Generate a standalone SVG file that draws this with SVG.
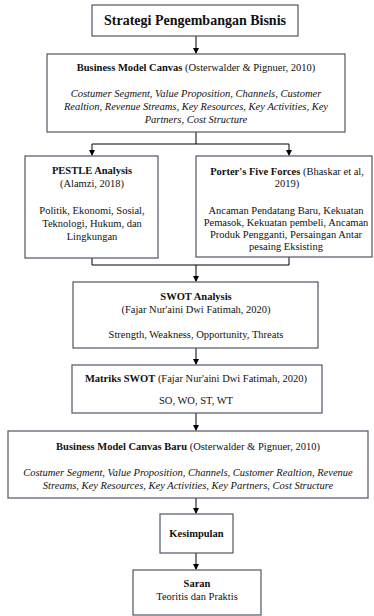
<svg xmlns="http://www.w3.org/2000/svg" width="374" height="616" viewBox="0 0 374 616" font-family="Liberation Serif, DejaVu Serif, serif">
<defs>
<marker id="ah" markerWidth="6" markerHeight="6" refX="5" refY="3" orient="auto" markerUnits="userSpaceOnUse">
<path d="M0,0 L6,3 L0,6 Z" fill="#000"/>
</marker>
<style>
text{font-family:"Liberation Serif",serif}
.box{fill:#fff;stroke:#4d5566;stroke-width:1.2}
.t{font-size:10.5px;fill:#111;text-anchor:middle}
.b{font-weight:bold}
.i{font-style:italic}
.ttl{font-size:14px}
.c{fill:none;stroke:#000;stroke-width:1}
.a{marker-end:url(#ah)}
</style>
</defs>
<rect width="374" height="616" fill="#fff"/>
<g id="connectors">
<path class="c a" d="M196,36 V53"/>
<path class="c" d="M196,132 V144"/>
<path class="c" d="M92,144 H289"/>
<path class="c a" d="M92,144 V155"/>
<path class="c a" d="M289,144 V155"/>
<path class="c" d="M92,258 V265 H289 V257"/>
<path class="c a" d="M196,265 V281"/>
<path class="c a" d="M196,348 V364"/>
<path class="c a" d="M196,413 V430"/>
<path class="c a" d="M196,498 V513"/>
<path class="c a" d="M196,553 V569"/>
</g>
<g id="title">
<rect class="box" x="92" y="5" width="206" height="31"/>
<text class="t b ttl" x="195" y="25" font-family="Liberation Serif">Strategi Pengembangan Bisnis</text>
</g>
<g id="bmc">
<rect class="box" x="47" y="54" width="298" height="78"/>
<text class="t" x="196" y="71"><tspan class="b">Business Model Canvas</tspan> (Osterwalder &amp; Pignuer, 2010)</text>
<text class="t i" x="196" y="97">Costumer Segment, Value Proposition, Channels, Customer</text>
<text class="t i" x="196" y="110">Realtion, Revenue Streams, Key Resources, Key Activities, Key</text>
<text class="t i" x="196" y="123">Partners, Cost Structure</text>
</g>
<g id="pestle">
<rect class="box" x="25" y="156" width="133" height="102"/>
<text class="t b" x="92" y="174">PESTLE Analysis</text>
<text class="t" x="92" y="187">(Alamzi, 2018)</text>
<text class="t" x="92" y="214">Politik, Ekonomi, Sosial,</text>
<text class="t" x="92" y="227">Teknologi, Hukum, dan</text>
<text class="t" x="92" y="240">Lingkungan</text>
</g>
<g id="porter">
<rect class="box" x="196" y="156" width="176" height="101"/>
<text class="t" x="287" y="175"><tspan class="b">Porter's Five Forces</tspan> (Bhaskar et al,</text>
<text class="t" x="287" y="187">2019)</text>
<text class="t" x="286" y="214">Ancaman Pendatang Baru, Kekuatan</text>
<text class="t" x="286" y="226">Pemasok, Kekuatan pembeli, Ancaman</text>
<text class="t" x="286" y="238">Produk Pengganti, Persaingan Antar</text>
<text class="t" x="286" y="250">pesaing Eksisting</text>
</g>
<g id="swot">
<rect class="box" x="73" y="282" width="245" height="66"/>
<text class="t b" x="196" y="300">SWOT Analysis</text>
<text class="t" x="196" y="313">(Fajar Nur'aini Dwi Fatimah, 2020)</text>
<text class="t" x="196" y="338">Strength, Weakness, Opportunity, Threats</text>
</g>
<g id="matriks">
<rect class="box" x="72" y="365" width="250" height="48"/>
<text class="t" x="196" y="382"><tspan class="b">Matriks SWOT</tspan> (Fajar Nur'aini Dwi Fatimah, 2020)</text>
<text class="t" x="196" y="404">SO, WO, ST, WT</text>
</g>
<g id="bmc-baru">
<rect class="box" x="8" y="431" width="360" height="67"/>
<text class="t" x="188" y="450"><tspan class="b">Business Model Canvas Baru</tspan> (Osterwalder &amp; Pignuer, 2010)</text>
<text class="t i" x="188" y="476">Costumer Segment, Value Proposition, Channels, Customer Realtion, Revenue</text>
<text class="t i" x="188" y="489">Streams, Key Resources, Key Activities, Key Partners, Cost Structure</text>
</g>
<g id="kesimpulan">
<rect class="box" x="160" y="514" width="73" height="39"/>
<text class="t b" x="196.5" y="537">Kesimpulan</text>
</g>
<g id="saran">
<rect class="box" x="133" y="570" width="128" height="45"/>
<text class="t b" x="197" y="587">Saran</text>
<text class="t" x="197" y="600">Teoritis dan Praktis</text>
</g>
</svg>
